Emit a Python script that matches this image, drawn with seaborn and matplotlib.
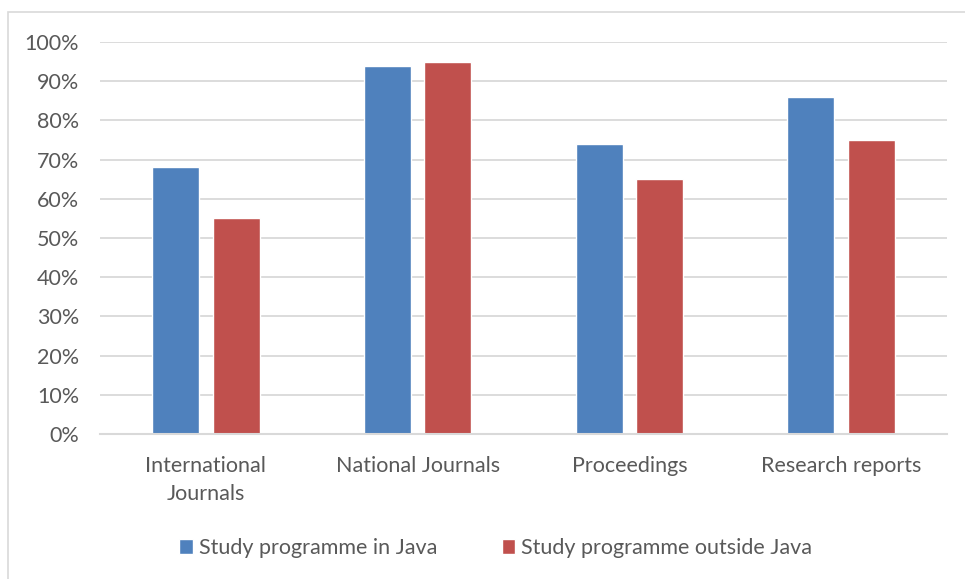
import pandas as pd
import matplotlib.pyplot as plt
import seaborn as sns
from matplotlib.patches import Rectangle
from matplotlib.ticker import PercentFormatter

# values
categories = ["International\nJournals", "National Journals", "Proceedings", "Research reports"]
series = ["Study programme in Java", "Study programme outside Java"]
java = [0.68, 0.94, 0.74, 0.86]
outside_java = [0.55, 0.95, 0.65, 0.75]

data = pd.DataFrame({
    "category": categories * 2,
    "group": [series[0]] * 4 + [series[1]] * 4,
    "value": java + outside_java,
})

sns.set_style("white")
plt.rcParams['font.family'] = ['Lato', 'DejaVu Sans']

fig = plt.figure(figsize=(9.65, 5.79), dpi=100)
ax = fig.add_axes([100 / 965, 1 - 434 / 579, 847 / 965, 392 / 579])

sns.barplot(data=data, x="category", y="value", hue="group",
            palette=["#4F81BD", "#C0504D"], saturation=1, width=0.57, gap=0.22,
            ax=ax, legend=True)

ax.set_ylim(0, 1)
ax.set_xlim(-0.5, 3.5)
ax.set_yticks([i / 10 for i in range(11)])
ax.yaxis.set_major_formatter(PercentFormatter(1.0, decimals=0))
ax.grid(axis="y", color="#D9D9D9", linewidth=1.3)
ax.set_axisbelow(True)
for s in ["top", "right", "left"]:
    ax.spines[s].set_visible(False)
ax.spines["bottom"].set_color("#D9D9D9")
ax.spines["bottom"].set_linewidth(1.5)
ax.tick_params(axis="both", length=0, labelsize=15.5, colors="#595959")
ax.tick_params(axis="x", pad=16)
ax.tick_params(axis="y", pad=15)
for t in ax.get_xticklabels():
    t.set_linespacing(1.5)
ax.set_xlabel("")
ax.set_ylabel("")

handles, labels = ax.get_legend_handles_labels()
ax.get_legend().remove()
fig.legend(handles, labels, loc="center", bbox_to_anchor=(0.5135, 1 - 548 / 579),
           ncol=2, frameon=False, fontsize=15.5, handlelength=0.65, handleheight=0.65,
           handletextpad=0.25, columnspacing=3.0, labelcolor="#595959")

# outer chart border
fig.patches.append(Rectangle((8 / 965, -0.05), 1.0, 1 - 12 / 579 + 0.05,
                             transform=fig.transFigure, fill=False,
                             edgecolor="#D9D9D9", linewidth=1.2))

fig.savefig("out.png", dpi=100)
